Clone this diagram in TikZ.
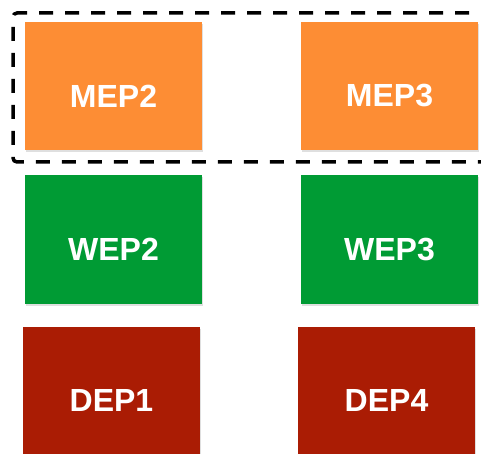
\documentclass[tikz,border=0pt]{standalone}
\usepackage{fontspec}
\setmainfont{Liberation Sans}
\usetikzlibrary{shadows}
\definecolor{meporange}{RGB}{253,141,52}
\definecolor{wepgreen}{RGB}{0,155,52}
\definecolor{depred}{RGB}{170,28,4}
\begin{document}
\begin{tikzpicture}[x=1pt,y=-1pt,
  box/.style={draw=none, minimum width=177pt, minimum height=128pt, inner sep=0pt,
    text=white, font=\fontsize{32}{36}\selectfont\bfseries,
    drop shadow={shadow xshift=1pt, shadow yshift=-2pt, opacity=0.25, fill=gray}},
  lbl/.style={text=white, font=\fontsize{32}{36}\selectfont\bfseries, inner sep=0pt},
  groupframe/.style={draw=black, line width=3.5pt, dash pattern=on 14pt off 12pt, rounded corners=4pt}]
\useasboundingbox (0,0) rectangle (481,454);
\node[box, fill=meporange] (mep2) at (113.5,86) {};
\node[box, fill=meporange] (mep3) at (389.5,86) {};
\node[box, fill=wepgreen] (wep2) at (113.5,239.5) {};
\node[box, fill=wepgreen] (wep3) at (389.5,239.5) {};
\node[box, fill=depred] (dep1) at (111.5,390.5) {};
\node[box, fill=depred] (dep4) at (386.5,390.5) {};
\node[lbl] (tmep2) at ([yshift=-10pt]mep2.center) {MEP2};
\node[lbl] (tmep3) at ([yshift=-10pt]mep3.center) {MEP3};
\node[lbl] (twep2) at ([yshift=-10pt]wep2.center) {WEP2};
\node[lbl] (twep3) at ([yshift=-10pt]wep3.center) {WEP3};
\node[lbl] (tdep1) at ([yshift=-10pt]dep1.center) {DEP1};
\node[lbl] (tdep4) at ([yshift=-10pt]dep4.center) {DEP4};
\begin{scope}
\clip (0,0) rectangle (481,454);
\draw[groupframe] (495,13) -- (13,13) -- (13,162) -- (495,162);
\end{scope}
\end{tikzpicture}
\end{document}
